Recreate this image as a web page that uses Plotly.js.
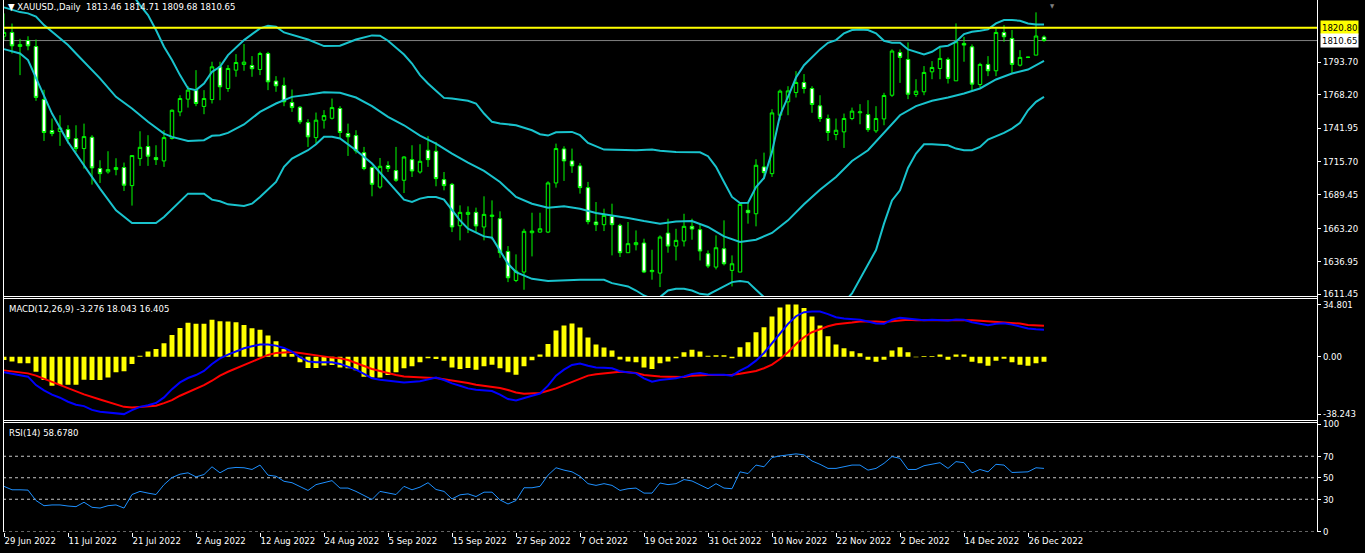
<!DOCTYPE html>
<html>
<head>
<meta charset="utf-8">
<script src="https://cdn.plot.ly/plotly-3.0.1.min.js"></script>
<style>html,body{margin:0;padding:0;background:#000;}#chart{width:1365px;height:553px;}</style>
</head>
<body>
<div id="chart"></div>
<script>
// ---------- DATA ----------
const tickIdx = [0,8,16,24,32,40,48,56,64,72,80,88,96,104,112,120,128];
const tickLabels = ["29 Jun 2022","11 Jul 2022","21 Jul 2022","2 Aug 2022","12 Aug 2022","24 Aug 2022","5 Sep 2022","15 Sep 2022","27 Sep 2022","7 Oct 2022","19 Oct 2022","31 Oct 2022","10 Nov 2022","22 Nov 2022","2 Dec 2022","14 Dec 2022","26 Dec 2022"];

const openP = [1814,1817,1806,1810.7,1806,1764.3,1739.9,1739.2,1740.7,1733.6,1725.8,1734.7,1710.1,1707.5,1709.3,1710.9,1696.7,1717.9,1727.4,1718.7,1716.1,1733.7,1754.6,1764.6,1771.7,1758.9,1764.3,1790,1773,1787.4,1791.9,1791.1,1787.9,1800.5,1778.8,1775.4,1762,1758.3,1746.2,1734.4,1748.1,1749.6,1757.3,1737.6,1736,1722.6,1710.9,1695.6,1712.4,1708.5,1700.9,1717.1,1707.4,1724.5,1723.7,1701.4,1697.7,1665.2,1674.1,1675.7,1664.2,1672.5,1670.7,1645,1622.2,1628.8,1659.7,1660.2,1660.2,1698.8,1725.5,1716.1,1712.2,1695.1,1668.1,1666,1672.5,1665.5,1644,1650.3,1651.6,1629.1,1628,1659.4,1649.2,1653.2,1664.7,1662.1,1643.2,1632.7,1647.1,1630.1,1628.8,1677.3,1674.6,1711.4,1706.1,1752,1762.5,1769.8,1777.7,1773,1759.4,1749.4,1736.8,1738.9,1749.4,1753.9,1752.5,1739.7,1749.1,1767.7,1801.3,1795.8,1768.3,1770.4,1786.1,1788.7,1795.8,1779,1808.4,1805.7,1776.1,1791.9,1786.9,1817,1812.3,1791.3,1797.4,1799.2,1813.46];
const highP = [1832,1824,1812,1814,1811.5,1772,1749.4,1752,1744.1,1744.1,1745.4,1736.3,1716.6,1723.7,1718.2,1714.8,1720.3,1739.4,1736.3,1728.4,1740.2,1756.5,1767.7,1774.8,1787.4,1771.7,1794,1794,1791.3,1800,1807.9,1798.4,1801.8,1801.8,1782.7,1781.6,1772.2,1759.1,1748.9,1754.1,1756,1765.1,1759.1,1745.4,1740.2,1727.1,1711.9,1718.4,1715.8,1727.1,1719.8,1728.4,1729.2,1735.5,1731,1707.4,1698.8,1681.2,1680.4,1679.4,1688.3,1685.1,1676.5,1649.2,1642.7,1662.8,1675.4,1675.4,1700.1,1729.7,1727.6,1725.8,1714.5,1699.6,1683.8,1678.6,1682.5,1666.8,1668.1,1661.5,1655,1646.3,1657.6,1670.7,1662.8,1674.6,1670.7,1666.3,1645.8,1657.6,1669.4,1641.9,1682,1683.8,1717.4,1722.6,1756.7,1772.2,1774.8,1786.6,1784.3,1774.8,1767.7,1752.5,1749.4,1753.3,1758,1760.7,1763.8,1759.1,1769.6,1803.7,1803.7,1809.2,1780.3,1790.6,1794.5,1805,1797.4,1824.1,1813.6,1807.6,1793.2,1798.4,1820.2,1822.8,1818.9,1803.1,1797.9,1832.8,1814.71];
const lowP = [1811,1800.5,1783.5,1803,1763.3,1731.8,1735.5,1727.9,1729.7,1723.2,1710.1,1697.5,1698.8,1706.1,1704.8,1692.5,1681,1712.2,1712.2,1712.9,1711.4,1732.9,1751.2,1758,1759.1,1752.8,1761.2,1763.8,1770.4,1782.2,1786.9,1782.2,1783.5,1771.7,1770.4,1759.1,1754.6,1745,1727.1,1729.7,1741.5,1748.6,1733.7,1720,1721.9,1708.8,1688.3,1694.3,1707.4,1699.6,1690.9,1703.5,1706.1,1711.4,1696.2,1693,1660.2,1653.7,1659.4,1660.2,1653.7,1654.2,1640,1620.9,1620.9,1614.9,1641.1,1659.7,1659.4,1695.1,1700.4,1706.7,1690.4,1666.3,1661,1661,1641.9,1640.6,1644,1645.8,1628,1622.8,1617,1644,1637.9,1648.9,1654.2,1637.9,1631.9,1630.9,1634,1617.5,1628.8,1666.8,1664.7,1701.7,1703.5,1748.1,1752,1765.9,1769.1,1753.9,1746.8,1731.8,1732.4,1726.3,1748.1,1744.9,1738.9,1738.1,1744.1,1766.4,1777.4,1764.6,1766.4,1767.7,1780.3,1780.3,1776.9,1779,1794,1771.7,1773.8,1782.7,1782.7,1809.7,1785.3,1790.3,1796.9,1799.2,1809.68];
const closeP = [1817,1806.5,1807.5,1806.5,1766,1738.4,1737.6,1742,1733.6,1725.8,1735.2,1710.6,1706.1,1709.3,1710.9,1697,1720.3,1726.8,1719.8,1717.1,1734.4,1755.9,1765.1,1771.7,1761.2,1765.1,1790,1774.3,1788.7,1793.4,1793.7,1788.5,1800.5,1778.2,1775.1,1762.5,1758,1746.8,1735,1748.1,1751.7,1758,1738.4,1735,1724,1710.1,1697.7,1711.9,1710.1,1700.9,1719.2,1708.2,1715.8,1717.1,1702.2,1696.7,1664.2,1675.7,1675.7,1665,1674.1,1673.5,1644,1624.3,1629.6,1660.8,1661,1662.8,1698.8,1725.8,1716.1,1712.2,1695.1,1668.4,1666,1673.3,1666,1644,1651.1,1651.9,1628.8,1630.1,1656.3,1649.2,1653.7,1664.7,1662.6,1645.3,1633.5,1647.9,1635.3,1635.3,1682,1675.4,1712.7,1706.9,1753.8,1770.9,1771.1,1777.7,1773,1760.4,1749.4,1738.4,1740.2,1749.4,1755.2,1754.6,1740.7,1749.4,1767.5,1802.4,1797.4,1768.5,1770.9,1785.6,1789.5,1796.6,1780.9,1809.7,1807.1,1776.4,1791.9,1786.9,1817,1813.6,1791.9,1797.4,1797.6,1814.2,1810.65];

// Bollinger bands, sampled at the bars where they were read
const upperIdx = [0,2,4,6,8,10,12,14,16,17,18,19,20,21,22,23,24,25,26,27,28,30,32,33,34,35,36,38,40,42,44,46,47,48,50,51,52,53,54,55,56,58,59,60,61,62,64,66,67,68,69,71,72,73,75,78,79,81,82,84,86,87,88,89,90,91,92,93,94,95,96,97,98,99,100,101,102,103,104,105,106,107,108,109,110,111,112,113,114,115,116,117,118,119,120,121,122,123,124,125,126,127,128,129,130];
const upperVal = [1869.5,1864.5,1879,1881.9,1883.2,1875.3,1867.5,1855.5,1847.3,1838.5,1830.7,1818.9,1805.8,1795.3,1783.5,1773,1771.7,1776.9,1786.1,1790,1799.2,1811,1820.2,1822.3,1821.5,1817,1815,1811.5,1806.3,1806.6,1811.5,1814.7,1814.4,1810.5,1799.7,1792.6,1783.5,1776.9,1771.2,1765.6,1765.1,1763.3,1761.2,1753.3,1746.8,1745.5,1744.1,1740.2,1737.1,1736,1738.6,1738.9,1736.3,1730.2,1725,1724.5,1724.5,1725,1724,1723.2,1723.2,1722.9,1719.8,1711.4,1699.6,1687.8,1683.1,1683.3,1695.6,1702.7,1723.2,1752,1766.4,1781.6,1791.3,1797.9,1803.7,1808.9,1811,1816.3,1818.9,1819.4,1818.9,1816.3,1810.5,1808.9,1808.9,1803.7,1801.8,1799.7,1801.8,1805.8,1806.6,1809.7,1815.7,1817.6,1818.4,1819.4,1824.1,1826.7,1826.7,1826.2,1824.1,1823.3,1823.3];
const middleIdx = [0,2,3,4,5,6,7,8,9,10,12,14,16,18,20,21,23,25,26,27,28,30,32,34,36,38,40,42,44,46,48,50,52,54,56,58,60,62,64,66,68,70,72,74,76,78,80,82,84,86,88,90,92,94,96,98,100,102,104,105,106,108,110,112,114,116,118,120,122,124,126,128,130];
const middleVal = [1836.7,1833,1832,1829.5,1822.8,1817.6,1812.3,1807.1,1800.5,1794,1780.9,1766.4,1757.3,1746.8,1737.6,1735,1731.8,1732.4,1735.8,1736.3,1738.1,1744.7,1754.6,1761.2,1766.4,1768,1770.1,1769.6,1765.9,1759.1,1750.7,1744.1,1736,1729.7,1721.9,1714.8,1708.2,1699.6,1687.8,1682.5,1679.4,1680.4,1678.6,1675.2,1673.3,1671.3,1668.9,1666.8,1668.6,1668.9,1664.2,1656.8,1652.4,1654.2,1659.5,1669.4,1682,1693.5,1703.5,1709.5,1716.1,1724.5,1738.1,1752,1759.1,1763.3,1765.9,1769.1,1773,1780.1,1784.8,1787.9,1794.7];
const lowerIdx = [0,2,3,4,5,6,8,10,12,14,16,18,19,20,22,23,25,26,27,28,30,31,32,34,35,36,38,39,40,41,42,44,46,48,50,51,52,53,54,55,56,57,58,60,61,62,63,64,66,68,72,75,76,78,79,80,81,82,83,84,85,86,87,88,89,90,91,92,93,94,95,96,97,98,99,100,102,104,105,106,107,108,109,110,111,112,113,114,115,116,118,119,120,121,122,123,124,125,126,127,128,129,130];
const lowerVal = [1803.9,1800.5,1795.3,1780.9,1766.4,1753.3,1731,1712.7,1694.3,1677.3,1667.3,1667.3,1667.3,1672,1683.8,1690.4,1690.4,1685.7,1684.4,1682,1680.7,1682.5,1687.8,1699.6,1711.4,1718,1724.5,1729.2,1735,1735,1733.7,1724.5,1714,1699.6,1685.7,1683.8,1686.5,1687.8,1687.8,1685.7,1677.3,1669.4,1662.9,1656.8,1655.8,1645.8,1635.3,1628.8,1623.5,1621.7,1622.7,1622.7,1620.1,1617.5,1614.3,1610.4,1607.8,1609.1,1614.3,1615.7,1615.7,1614.3,1611.7,1611,1614.3,1617,1620.9,1621.7,1620.9,1614.9,1609.1,1594.5,1576,1572.4,1569.4,1572.7,1583.3,1596,1605,1612,1623.3,1634.8,1646.1,1666.8,1685.1,1693,1710.6,1721.9,1729.2,1729.2,1728.4,1725.8,1724.5,1724.5,1727.1,1732.9,1735.5,1738.1,1741.5,1746,1755.9,1762.5,1766.4];

// MACD(12,26,9)
const macdHist = [-2.2,-3.1,-4.4,-4.4,-10,-15.5,-19.3,-18.9,-18.7,-18.7,-15.3,-15.5,-15.5,-13.8,-10.4,-9.75,-4.8,0.7,3.4,5.2,9,14.5,19.2,22.6,21.9,21.9,24.6,23.7,23.5,23,21.2,19,17.9,14.1,10.3,5.2,1.85,-3.7,-7.5,-7.5,-5.9,-5.5,-7.1,-7.7,-9,-13.3,-13.8,-13.8,-12.2,-10.4,-7.7,-6.4,-3.7,-1.1,-1.5,-2.6,-7.1,-8.2,-7.5,-8.6,-6.4,-5.3,-7.7,-10.4,-12,-6.4,-2.4,1.4,8.5,17.4,20.8,22.1,19.4,12.8,8.1,6.1,4.1,-1.8,-3.1,-3.7,-7.1,-8.2,-4.4,-3.1,-1.1,2.9,4.7,3.5,0.7,0.9,0.9,-1.1,6.3,9.6,16.3,19.7,26.8,32.8,34.801,34.8,32.4,26.8,20.8,13.6,8.1,5.6,3.6,2.3,-2,-3.3,-2,4.1,6.3,2.9,-0.3,0.5,0.5,1.4,-2,1.4,1.4,-3.3,-4.4,-6,-2.6,-1.3,-3.7,-5.3,-6,-4.4,-3.276];
const macdIdx = [0,2,3,4,5,6,7,8,9,10,11,12,13,14,15,16,17,18,19,20,21,22,23,24,25,26,27,28,29,30,31,32,33,34,35,36,37,38,39,40,41,42,43,44,45,46,47,48,49,50,52,53,54,55,56,57,58,59,60,61,62,63,64,65,66,67,68,69,70,71,72,73,74,75,76,77,78,79,80,81,82,83,84,85,86,87,88,89,90,91,92,93,94,95,96,97,98,99,100,101,102,103,104,105,106,107,108,109,110,111,112,113,114,115,116,117,118,119,120,121,122,123,124,125,126,127,128,129,130];
const macdMain = [-10.4,-12.2,-13.3,-18.9,-22.4,-25.3,-27.3,-30,-32,-32.9,-35.4,-36.7,-37.1,-37.8,-38.243,-35.6,-33.4,-32.3,-30.9,-27.1,-21.6,-17.1,-14.2,-12.2,-9.5,-4.8,-1.1,1.4,3.6,5.6,7,8.1,8.1,7.4,5.85,3.4,-0.4,-3.1,-3.7,-3.7,-3.7,-4.8,-6.6,-8.6,-11.5,-14.4,-15.3,-15.8,-16.4,-17.1,-16.4,-14.9,-13.8,-15.5,-17.8,-19.3,-21.1,-22,-22.4,-22.9,-25.3,-28.2,-29.1,-27.3,-26,-24.5,-19.3,-12.6,-8.6,-5.5,-4.6,-6,-7.1,-7.3,-7.7,-9.7,-10.6,-11.1,-14.4,-16.7,-15.5,-14.9,-14.4,-13.1,-11.5,-10.9,-11.8,-12,-12,-12.6,-9.3,-6.6,-2.6,2.5,9.2,15.9,21.9,27,29.7,30.1,30.1,28.4,26.3,25.5,25.2,24.6,23.5,22.1,21.9,24.6,25.9,25.2,24.6,24.3,24.6,24.3,24.1,24.8,24.6,23,22.1,21,21.9,22.3,21.4,20.3,18.8,18.3,18.043];
const signalIdx = [0,2,3,4,6,8,10,12,14,15,16,17,18,19,20,21,22,23,24,25,26,27,28,29,30,31,32,33,34,35,36,37,38,39,40,41,42,43,44,45,46,47,48,49,50,52,53,54,55,56,57,58,59,60,61,62,63,64,65,66,67,68,69,70,71,72,73,74,75,76,77,78,79,80,81,82,83,84,85,86,87,88,89,90,91,92,93,94,95,96,97,98,99,100,101,102,103,104,105,106,107,108,109,110,111,112,113,114,115,116,117,118,119,120,121,122,123,124,125,126,127,128,129,130];
const signalVal = [-9.1,-10.2,-11.1,-12.6,-16.7,-21.1,-25.1,-28.5,-31.8,-33.4,-33.8,-33.6,-33.1,-32.7,-30.9,-28.9,-26,-23.8,-21.6,-18.9,-16,-12.6,-10,-7.7,-5.3,-3.1,-0.8,1.2,2.5,3,3.2,2.5,1.6,0.7,0.05,-0.6,-1.1,-2.2,-4.2,-6.4,-8.2,-9.5,-10.9,-12.2,-13.1,-14,-14,-14.2,-14.9,-15.8,-16.7,-17.5,-18.7,-19.3,-20,-20.9,-22.2,-23.8,-24.7,-24.5,-24.2,-22.7,-21.1,-18.9,-16.7,-14.9,-12.6,-11.7,-11.1,-10.4,-10,-10.4,-10.9,-12.2,-12.9,-13.1,-13.3,-13.3,-13.5,-12.6,-12.2,-12.2,-12.2,-12.2,-12,-11.3,-10.6,-9.5,-7.7,-5.3,-1.5,2.95,8.5,13,16.3,18.55,20.3,21.7,22.1,22.8,23.5,23.7,23.5,23.2,23.5,24.1,24.6,24.3,24.3,24.3,24.1,24.1,24.6,24.6,24.3,23.9,23.5,23.5,23.2,22.8,22.1,21.2,20.8,20.6];

// RSI(14)
const rsiVal = [42,38.8,38.8,38.5,28.8,24,24.7,24.7,23.7,23.1,27.2,22.5,21.8,24,24.7,21.8,34.4,37.3,35.7,34.4,43.6,50.2,53.3,54.6,50.8,53,60.2,54.6,58.7,59.6,59.3,57.7,61.8,52.4,51.4,46.7,45.4,42,38.2,43.6,45.4,47.3,40.4,40.4,37.3,33.5,29.7,37.3,36,34.4,42,38.8,41.3,45.4,39.1,37.3,30.3,34.1,35,32.5,36.6,36.6,29.4,25.6,28.8,40.7,40.7,42,52.4,59.3,57.1,55.5,51.4,44.5,42.9,44.5,42.9,38.2,39.8,40.4,35.7,35.7,45.1,43.6,44.5,48.3,47,43.6,39.8,44.5,40.4,39.8,55.5,53.9,61.8,60.2,68.8,70.3,71.3,72.2,71.3,65.6,62.5,58.7,58.7,60.2,61.8,61.8,57.1,58.7,63.4,69.7,68.1,57.7,57.7,61.2,62.5,64,58.7,65,64,54.6,57.7,55.5,62.5,61.8,54.9,55.5,55.5,59.3,58.678];

const priceTicks = [1793.70,1768.20,1741.95,1715.70,1689.45,1663.20,1636.95,1611.45];
const macdTicks = [34.801,0,-38.243];
const macdTickText = ["34.801","0.00","-38.243"];
const rsiTicks = [100,70,50,30,0];
const rsiLevels = [70,50,30,0];
const resistance = 1820.80;
const bid = 1810.65;

// ---------- CHART ----------
const barIdx = closeP.map((_, i) => i);
const W = 1365, H = 553;
const px = x => x / W;
const py = y => 1 - y / H;
const F = "'DejaVu Sans Condensed', 'DejaVu Sans', Arial, sans-serif";
const FS = 9.5;
const bandColor = 'rgb(25,195,205)';

const traces = [
  {type:'scatter', mode:'lines', x:upperIdx, y:upperVal, line:{color:bandColor,width:2}, xaxis:'x', yaxis:'y', hoverinfo:'skip'},
  {type:'scatter', mode:'lines', x:middleIdx, y:middleVal, line:{color:bandColor,width:2}, xaxis:'x', yaxis:'y', hoverinfo:'skip'},
  {type:'scatter', mode:'lines', x:lowerIdx, y:lowerVal, line:{color:bandColor,width:2}, xaxis:'x', yaxis:'y', hoverinfo:'skip'},
  {type:'candlestick', x:barIdx, open:openP, high:highP, low:lowP, close:closeP,
   increasing:{line:{color:'#00ff00',width:1}, fillcolor:'#000000'},
   decreasing:{line:{color:'#00ff00',width:1}, fillcolor:'#ffffff'},
   whiskerwidth:0, xaxis:'x', yaxis:'y', hoverinfo:'skip'},
  {type:'bar', x:barIdx, y:macdHist, width:0.62, marker:{color:'#ffff00', line:{width:0}}, xaxis:'x', yaxis:'y2', hoverinfo:'skip'},
  {type:'scatter', mode:'lines', x:signalIdx, y:signalVal, line:{color:'#ff0000',width:2}, xaxis:'x', yaxis:'y2', hoverinfo:'skip'},
  {type:'scatter', mode:'lines', x:macdIdx, y:macdMain, line:{color:'#0000ff',width:2}, xaxis:'x', yaxis:'y2', hoverinfo:'skip'},
  {type:'scatter', mode:'lines', x:barIdx, y:rsiVal, line:{color:'#1e90ff',width:1}, xaxis:'x', yaxis:'y3', hoverinfo:'skip'}
];

const X0 = 3, X1 = 1317;
const shapes = [];
shapes.push({type:'line', xref:'paper', yref:'y', x0:px(X0), x1:px(X1), y0:bid, y1:bid, line:{color:'#808080',width:1}, layer:'below'});
shapes.push({type:'line', xref:'paper', yref:'y', x0:px(X0), x1:px(X1), y0:resistance, y1:resistance, line:{color:'#ffff00',width:2}});
rsiLevels.forEach(v => shapes.push({type:'line', xref:'paper', yref:'y3', x0:px(X0), x1:px(X1), y0:v, y1:v, line:{color:'#c8c8c8',width:1,dash:'3px,3px'}, layer:'below'}));
const hl = (y) => ({type:'line', xref:'paper', yref:'paper', x0:px(X0), x1:px(X1+0.5), y0:py(y), y1:py(y), line:{color:'#ffffff',width:1}});
[296.5, 298.5, 420.5, 422.5].forEach(y => shapes.push(hl(y)));
shapes.push({type:'line', xref:'paper', yref:'paper', x0:px(X0+0.5), x1:px(X0+0.5), y0:py(0), y1:py(532), line:{color:'#ffffff',width:1}});
shapes.push({type:'line', xref:'paper', yref:'paper', x0:px(X1+0.5), x1:px(X1+0.5), y0:py(0), y1:py(532), line:{color:'#ffffff',width:1}});

const annotations = [
  {xref:'paper', yref:'paper', x:px(6), y:py(7), xanchor:'left', yanchor:'middle', showarrow:false,
   text:'\u25BC XAUUSD.,Daily  1813.46 1814.71 1809.68 1810.65', font:{family:F,size:FS,color:'#ffffff'}},
  {xref:'paper', yref:'paper', x:px(7), y:py(308), xanchor:'left', yanchor:'middle', showarrow:false,
   text:'MACD(12,26,9) -3.276 18.043 16.405', font:{family:F,size:FS,color:'#ffffff'}},
  {xref:'paper', yref:'paper', x:px(7), y:py(432), xanchor:'left', yanchor:'middle', showarrow:false,
   text:'RSI(14) 58.6780', font:{family:F,size:FS,color:'#ffffff'}},
  {xref:'paper', yref:'y', x:px(1320), y:resistance, xanchor:'left', yanchor:'middle', showarrow:false,
   text:'1820.80', bgcolor:'#ffff00', borderpad:1, font:{family:F,size:FS,color:'#000000'}},
  {xref:'paper', yref:'y', x:px(1320), y:bid, xanchor:'left', yanchor:'middle', showarrow:false,
   text:'1810.65', bgcolor:'#ffffff', borderpad:1, font:{family:F,size:FS,color:'#000000'}},
  {xref:'paper', yref:'paper', x:px(1052), y:1, xanchor:'center', yanchor:'top', showarrow:false,
   text:'\u25BC', font:{family:F,size:6,color:'#808080'}}
];

const axFont = {family:F, size:FS, color:'#ffffff'};
const yBase = {side:'right', anchor:'x', showgrid:false, zeroline:false, showline:false, ticks:'outside', ticklen:3, tickcolor:'#ffffff', tickfont:axFont, fixedrange:true};

const layout = {
  width:W, height:H, margin:{l:0,r:0,t:0,b:0}, paper_bgcolor:'#000000', plot_bgcolor:'#000000',
  showlegend:false, boxgap:0.38, hovermode:false,
  xaxis:{domain:[px(X0),px(X1)], range:[-0.125,164.125], anchor:'y3', showgrid:false, zeroline:false, showline:false,
         tickmode:'array', tickvals:tickIdx, ticktext:tickLabels, ticks:'outside', ticklen:4, tickcolor:'#ffffff',
         tickfont:axFont, ticklabelposition:'outside right', rangeslider:{visible:false}, fixedrange:true},
  yaxis:Object.assign({}, yBase, {domain:[py(296.5),1], range:[1609.6,1842.5], tickmode:'array', tickvals:priceTicks, ticktext:priceTicks.map(v=>v.toFixed(2))}),
  yaxis2:Object.assign({}, yBase, {domain:[py(420.5),py(298.5)], range:[-42.5,38.8], tickmode:'array', tickvals:macdTicks, ticktext:macdTickText}),
  yaxis3:Object.assign({}, yBase, {domain:[py(531.5),py(422.5)], range:[0,101.4], tickmode:'array', tickvals:rsiTicks, ticktext:rsiTicks.map(String)}),
  shapes:shapes, annotations:annotations
};

Plotly.newPlot('chart', traces, layout, {staticPlot:true, displayModeBar:false});
</script>
</body>
</html>
